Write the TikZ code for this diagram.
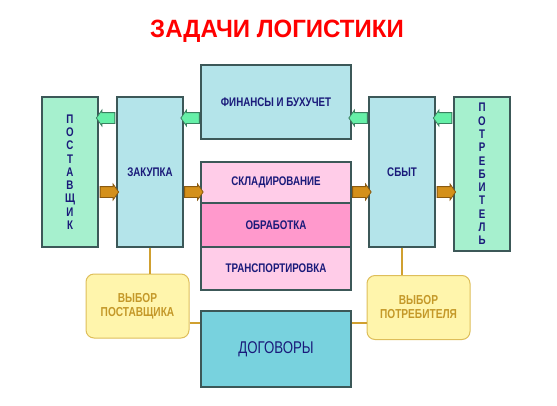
\documentclass[tikz,border=0pt]{standalone}
\usepackage{fontspec}
\setmainfont{Liberation Sans}
\newfontfamily\narfont[FakeStretch=0.78]{Liberation Sans}
\newfontfamily\titlefont[FakeStretch=0.96]{Liberation Sans}
\usetikzlibrary{shapes.arrows,calc}
\definecolor{mint}{RGB}{166,240,206}
\definecolor{pblue}{RGB}{180,228,234}
\definecolor{pinklt}{RGB}{255,204,232}
\definecolor{pinkdk}{RGB}{255,153,204}
\definecolor{cream}{RGB}{255,245,172}
\definecolor{creamline}{RGB}{222,190,90}
\definecolor{teal}{RGB}{120,210,222}
\definecolor{boxline}{RGB}{60,88,88}
\definecolor{navy}{RGB}{26,26,122}
\definecolor{goldtxt}{RGB}{196,152,40}
\definecolor{goldline}{RGB}{208,160,48}
\definecolor{agreen}{RGB}{102,240,168}
\definecolor{agreendk}{RGB}{58,128,96}
\definecolor{abrown}{RGB}{212,144,26}
\definecolor{abrowndk}{RGB}{138,90,16}
\tikzset{
  box/.style={draw=boxline, line width=1.2pt, inner sep=0pt, align=center,
    text=navy, font=\narfont\bfseries\fontsize{12.5}{13.3}\selectfont},
  choice/.style={draw=creamline, fill=cream, line width=1pt, rounded corners=8pt,
    inner sep=0pt, align=center, text=goldtxt,
    font=\narfont\bfseries\fontsize{13}{14}\selectfont,
    minimum width=103pt, minimum height=64pt},
  link/.style={draw=goldline, line width=1.4pt},
  flow/.style={single arrow, inner xsep=0pt, inner ysep=5pt, line width=0.8pt,
    minimum height=18.5pt,
    single arrow head extend=2.5pt, single arrow tip angle=110},
  back/.style={flow, shape border rotate=180, draw=agreendk, fill=agreen},
  fwd/.style={flow, draw=abrowndk, fill=abrown}
}
\begin{document}
\begin{tikzpicture}[x=1pt,y=-1pt]
\useasboundingbox (0,0) rectangle (557,405);
\node[text=red, font=\titlefont\bfseries\fontsize{25}{28}\selectfont] (title) at (277,31) {ЗАДАЧИ ЛОГИСТИКИ};
% main blocks
\node[box, fill=mint, minimum width=56pt, minimum height=150pt] (post) at (70,172) {П\\О\\С\\Т\\А\\В\\Щ\\И\\К};
\node[box, fill=pblue, minimum width=66pt, minimum height=150pt] (zak) at (150,172) {ЗАКУПКА};
\node[box, fill=pblue, minimum width=150pt, minimum height=74pt] (fin) at (276,102) {ФИНАНСЫ И БУХУЧЕТ};
\node[box, fill=pinklt, minimum width=150pt, minimum height=41pt] (skl) at (276,182.5) {СКЛАДИРОВАНИЕ};
\node[box, fill=pinkdk, minimum width=150pt, minimum height=44pt] (obr) at (276,225) {ОБРАБОТКА};
\node[box, fill=pinklt, minimum width=150pt, minimum height=43pt] (trn) at (276,268.5) {ТРАНСПОРТИРОВКА};
\node[box, fill=pblue, minimum width=66pt, minimum height=150pt] (sbyt) at (402,172) {СБЫТ};
\node[box, fill=mint, minimum width=56pt, minimum height=154pt] (potr) at (482,174) {П\\О\\Т\\Р\\Е\\Б\\И\\Т\\Е\\Л\\Ь};
% lower row
\node[choice] (vybp) at (137.5,306) {ВЫБОР\\ПОСТАВЩИКА};
\node[choice] (vybc) at (418.5,307.5) {ВЫБОР\\ПОТРЕБИТЕЛЯ};
\node[box, fill=teal, minimum width=150pt, minimum height=76pt,
  font=\narfont\fontsize{17}{20}\selectfont] (dog) at (276,349) {ДОГОВОРЫ};
\draw[link] (zak.south) -- (zak.south |- vybp.north);
\draw[link] (sbyt.south) -- (sbyt.south |- vybc.north);
\draw[link] ([yshift=-17pt]vybp.east) -- ([yshift=-17pt]vybp.east -| dog.west);
\draw[link] ([yshift=-15.5pt]vybc.west) -- ([yshift=-15.5pt]vybc.west -| dog.east);
% flows
\coordinate (gy) at (0,118);
\coordinate (by) at (0,192);
\node[back] (b1) at ($(post.east |- gy)!0.5!(zak.west |- gy)$) {};
\node[back] (b2) at ($(zak.east |- gy)!0.5!(fin.west |- gy)$) {};
\node[back] (b3) at ($(fin.east |- gy)!0.5!(sbyt.west |- gy)$) {};
\node[back] (b4) at ($(sbyt.east |- gy)!0.5!(potr.west |- gy)$) {};
\node[fwd] (f1) at ($(post.east |- by)!0.5!(zak.west |- by)$) {};
\node[fwd] (f2) at ($(zak.east |- by)!0.5!(skl.west |- by)$) {};
\node[fwd] (f3) at ($(skl.east |- by)!0.5!(sbyt.west |- by)$) {};
\node[fwd] (f4) at ($(sbyt.east |- by)!0.5!(potr.west |- by)$) {};
\end{tikzpicture}
\end{document}
